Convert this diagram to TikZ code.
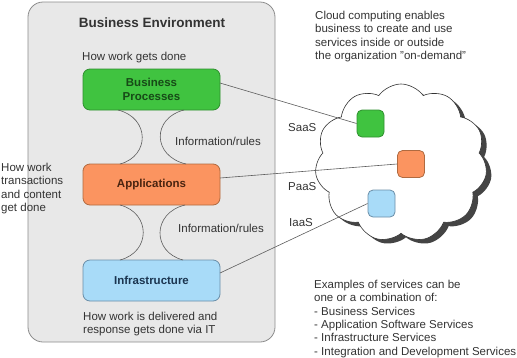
\documentclass[tikz,border=0pt]{standalone}
\usepackage{fontspec}
\setmainfont{Liberation Sans}
\usetikzlibrary{shapes.symbols}
\definecolor{envfill}{HTML}{E8E8E8}
\definecolor{envdraw}{HTML}{8C8C8C}
\definecolor{txt}{HTML}{333333}
\definecolor{gfill}{HTML}{40C340}
\definecolor{gdraw}{HTML}{2F8F2F}
\definecolor{gtxt}{HTML}{174A17}
\definecolor{ofill}{HTML}{FB9460}
\definecolor{odraw}{HTML}{B06A40}
\definecolor{otxt}{HTML}{4A2410}
\definecolor{bfill}{HTML}{A8DBF8}
\definecolor{bdraw}{HTML}{6A8EA8}
\definecolor{btxt}{HTML}{1B3550}
\definecolor{shade}{HTML}{444444}
\tikzset{
  plain/.style={font=\fontsize{11.5}{13.3}\selectfont, text=txt, inner sep=0pt, align=left},
  layer/.style={rounded corners=7pt, line width=0.8pt, minimum width=137pt, minimum height=41pt, font=\bfseries\fontsize{11.5}{13.5}\selectfont, align=center, inner sep=0pt},
  svc/.style={rounded corners=5pt, line width=0.8pt, minimum width=27pt, minimum height=27pt, inner sep=0pt},
  link/.style={draw=txt!80, line width=0.6pt},
  waist/.style={draw=txt!80, line width=0.6pt},
  cloudshape/.style={cloud, cloud puffs=11, cloud puff arc=110, aspect=1.1, minimum width=172pt, minimum height=158pt, inner sep=0pt}
}
\begin{document}
\begin{tikzpicture}[x=1pt,y=-1pt]
\useasboundingbox (0,0) rectangle (517,357);
% environment
\node[draw=envdraw, fill=envfill, rounded corners=15pt, line width=0.8pt, minimum width=247pt, minimum height=340pt, inner sep=0pt] (env) at (151.5,172) {};
\node[font=\bfseries\fontsize{13.5}{15}\selectfont, text=txt, inner sep=0pt] (title) at (152,23) {Business Environment};
\node[plain, anchor=west] (t1) at (82,58) {How work gets done};
% layers
\node[layer, draw=gdraw, fill=gfill, text=gtxt] (bp) at (151.5,89.5) {Business\\Processes};
\node[layer, draw=odraw, fill=ofill, text=otxt] (app) at (151.5,184.5) {Applications};
\node[layer, draw=bdraw, fill=bfill, text=btxt] (inf) at (151.5,280.5) {Infrastructure};
% waists
\coordinate (w1a) at (118,110); \coordinate (w1b) at (120,164);
\coordinate (w1c) at (184,110); \coordinate (w1d) at (186,164);
\draw[waist] (w1a) .. controls (150,118) and (150,156) .. (w1b);
\draw[waist] (w1c) .. controls (152,118) and (152,156) .. (w1d);
\coordinate (w2a) at (120,205); \coordinate (w2b) at (120,260);
\coordinate (w2c) at (185,205); \coordinate (w2d) at (183,260);
\draw[waist] (w2a) .. controls (151,213) and (151,252) .. (w2b);
\draw[waist] (w2c) .. controls (152,213) and (152,252) .. (w2d);
\node[plain, anchor=west] (ir1) at (175,141) {Information/rules};
\node[plain, anchor=west] (ir2) at (178,228) {Information/rules};
\node[plain, anchor=north west] (t2) at (83,312) {How work is delivered and\\response gets done via IT};
\node[plain, anchor=north west] (t3) at (1,163) {How work\\transactions\\and content\\get done};
% cloud
\node[cloudshape, fill=shade] (cloudsh) at (406,167) {};
\node[cloudshape, fill=white, draw=txt, line width=0.6pt] (cl) at (401,163) {};
\node[plain, anchor=north west] (t4) at (315,11) {Cloud computing enables\\business to create and use\\services inside or outside\\the organization \symbol{34}on-demand\symbol{34}};
\node[svc, draw=gdraw, fill=gfill] (sg) at (370.5,123.5) {};
\node[svc, draw=odraw, fill=ofill] (so) at (411,164) {};
\node[svc, draw=bdraw, fill=bfill] (sb) at (381.5,203.5) {};
\node[plain, anchor=west] (saas) at (288,128) {SaaS};
\node[plain, anchor=west] (paas) at (288,187) {PaaS};
\node[plain, anchor=west] (iaas) at (289,223) {IaaS};
\coordinate (bpo) at (220,83);
\coordinate (appo) at (220,178);
\coordinate (info) at (220,273);
\draw[link] (bpo) -- (sg.west);
\draw[link] (appo) -- (so.west);
\draw[link] (info) -- (sb.west);
\node[plain, anchor=north west] (t5) at (314,280) {Examples of services can be\\one or a combination of:\\- Business Services\\- Application Software Services\\- Infrastructure Services\\- Integration and Development Services};
\end{tikzpicture}
\end{document}
